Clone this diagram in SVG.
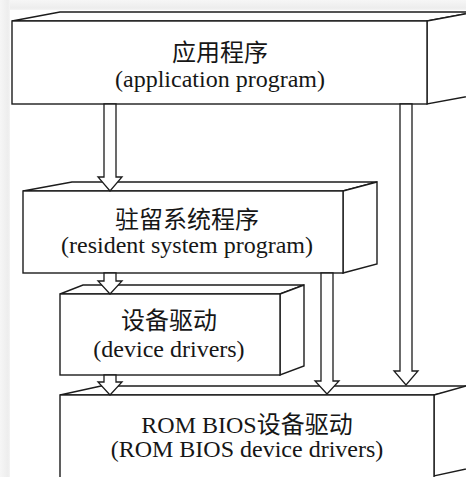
<svg xmlns="http://www.w3.org/2000/svg" width="466" height="477" viewBox="0 0 466 477">
  <defs>
    <linearGradient id="gTop" x1="0" y1="0" x2="0" y2="1">
      <stop offset="0" stop-color="#f6f6f6"/>
      <stop offset="0.8" stop-color="#ededed"/>
      <stop offset="1" stop-color="#f4f4f4"/>
    </linearGradient>
    <linearGradient id="gLeft" x1="0" y1="0" x2="1" y2="0">
      <stop offset="0" stop-color="#f6f6f6"/>
      <stop offset="0.8" stop-color="#ededed"/>
      <stop offset="1" stop-color="#f4f4f4"/>
    </linearGradient>
  </defs>
  <style>
    .face { fill: #ffffff; stroke: #1c1c1c; stroke-width: 1.4; stroke-linejoin: miter; }
    .arrow { fill: #ffffff; stroke: #1c1c1c; stroke-width: 1.3; stroke-linejoin: miter; }
    .t { font-family: "Liberation Serif", "Noto Sans CJK SC", serif; font-size: 24px; fill: #161616; text-anchor: middle; }
  </style>

  <rect x="0" y="0" width="466" height="477" fill="#ffffff"/>
  <rect x="0" y="0" width="466" height="10" fill="url(#gTop)"/>
  <rect x="0" y="0" width="10" height="477" fill="url(#gLeft)"/>

  <g id="node-app">
    <polygon class="face" points="12,21 60,12 475,12 427,21"/>
    <polygon class="face" points="427,21 475,12 475,95 427,104"/>
    <rect class="face" x="12" y="21" width="415" height="83"/>
    <text class="t" x="220" y="61">应用程序</text>
    <text class="t" x="220" y="87">(application program)</text>
  </g>

  <g id="node-resident">
    <polygon class="face" points="23,191 72,182 377,182 343,191"/>
    <polygon class="face" points="343,191 377,182 377,264 343,273"/>
    <rect class="face" x="23" y="191" width="320" height="82"/>
    <text class="t" x="187" y="228">驻留系统程序</text>
    <text class="t" x="187" y="253">(resident system program)</text>
  </g>

  <g id="node-device">
    <polygon class="face" points="60,294 83,285 304,285 280,294"/>
    <polygon class="face" points="280,294 304,285 304,366 280,375"/>
    <rect class="face" x="60" y="294" width="220" height="81"/>
    <text class="t" x="169" y="329">设备驱动</text>
    <text class="t" x="169" y="357">(device drivers)</text>
  </g>

  <g id="node-rombios">
    <polygon class="face" points="60,395 101,386 475,386 434,395"/>
    <polygon class="face" points="434,395 466,386 475,386 475,467 434,476"/>
    <rect class="face" x="60" y="395" width="374" height="90"/>
    <text class="t" x="247" y="433">ROM BIOS设备驱动</text>
    <text class="t" x="247" y="457">(ROM BIOS device drivers)</text>
  </g>

  <g id="connectors">
    <polygon class="arrow" points="104,104 116,104 116,177 122,177 110,191 98,177 104,177"/>
    <polygon class="arrow" points="104,273 116,273 116,281 122,281 110,294 98,281 104,281"/>
    <polygon class="arrow" points="104,375 116,375 116,382 122,382 110,395 98,382 104,382"/>
    <polygon class="arrow" points="321,273 333,273 333,381 339,381 327,394 315,381 321,381"/>
    <polygon class="arrow" points="400,104 412,104 412,371 418,371 406,385 394,371 400,371"/>
  </g>
</svg>
